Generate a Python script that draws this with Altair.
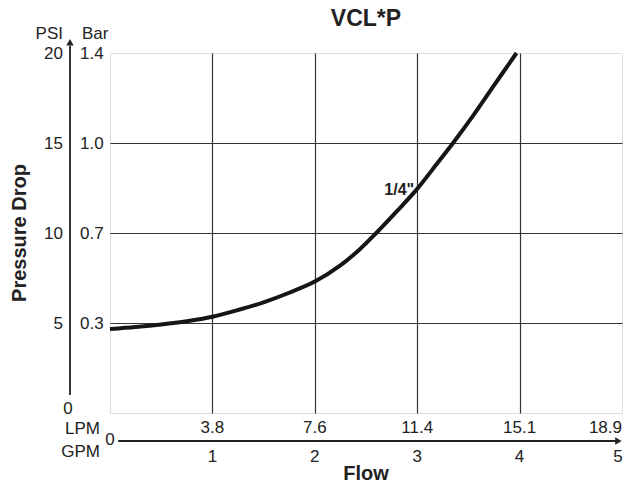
import altair as alt
import pandas as pd

# ---- data ----
gpm = [0, 0.25, 0.5, 0.75, 1.0, 1.25, 1.5, 1.75, 2.0, 2.25, 2.44, 2.6, 2.8, 3.0, 3.2, 3.35, 3.55, 3.75, 3.97]
psi = [4.67, 4.78, 4.92, 5.1, 5.35, 5.72, 6.15, 6.68, 7.3, 8.2, 9.1, 10.0, 11.2, 12.45, 13.9, 15.0, 16.55, 18.2, 20.0]

grid_gpm = [1, 2, 3, 4]
grid_psi = [5, 10, 15]

psi_ticks = [5, 10, 15, 20]
bar_labels = ["0.3", "0.7", "1.0", "1.4"]

gpm_ticks = [1, 2, 3, 4, 5]
lpm_labels = ["3.8", "7.6", "11.4", "15.1", "18.9"]

series_label = ['1/4"']
series_label_gpm = [2.97]
series_label_psi = [12.4]

title_text = "VCL*P"
x_title = "Flow"
y_title = "Pressure Drop"

F = "Liberation Sans"
W, H = 512, 360

xs = alt.Scale(domain=[0, 5], nice=False, zero=False)
ys = alt.Scale(domain=[0, 20], nice=False, zero=False)

curve_df = pd.DataFrame({"gpm": gpm, "psi": psi})
ytick_df = pd.DataFrame({"psi": psi_ticks, "bar": bar_labels})
xtick_df = pd.DataFrame({"gpm": gpm_ticks, "lpm": lpm_labels})
lab_df = pd.DataFrame({"gpm": series_label_gpm, "psi": series_label_psi, "t": series_label})
one = pd.DataFrame({"k": [0]})

curve = alt.Chart(curve_df).mark_line(
    color="#151515", strokeWidth=4, interpolate="catmull-rom"
).encode(
    x=alt.X("gpm:Q", scale=xs, axis=alt.Axis(values=grid_gpm, grid=True, labels=False, ticks=False,
                                              domain=False, title=None, gridColor="#333333", gridWidth=1.2)),
    y=alt.Y("psi:Q", scale=ys, axis=alt.Axis(values=grid_psi, grid=True, labels=False, ticks=False,
                                              domain=False, title=None, gridColor="#333333", gridWidth=1.2)),
)

series_lab = alt.Chart(lab_df).mark_text(
    align="right", baseline="middle", font=F, fontSize=16, fontWeight="bold", color="#222"
).encode(x=alt.X("gpm:Q", scale=xs), y=alt.Y("psi:Q", scale=ys), text="t:N")

psi_txt = alt.Chart(ytick_df).mark_text(
    align="right", baseline="middle", font=F, fontSize=17, color="#222", dy=1
).encode(x=alt.value(-47), y=alt.Y("psi:Q", scale=ys), text="psi:Q")

bar_txt = alt.Chart(ytick_df).mark_text(
    align="left", baseline="middle", font=F, fontSize=17, color="#222", dy=1
).encode(x=alt.value(-30), y=alt.Y("psi:Q", scale=ys), text="bar:N")

psi_zero = alt.Chart(one).mark_text(
    align="center", baseline="middle", font=F, fontSize=17, color="#222", text="0", dy=-4
).encode(x=alt.value(-42), y=alt.Y(datum=0, scale=ys))

gpm_zero = alt.Chart(one).mark_text(
    align="center", baseline="middle", font=F, fontSize=17, color="#222", text="0"
).encode(x=alt.X(datum=0, scale=xs), y=alt.value(387))

lpm_txt = alt.Chart(xtick_df[xtick_df.gpm < 5]).mark_text(
    align="center", baseline="middle", font=F, fontSize=17, color="#222"
).encode(x=alt.X("gpm:Q", scale=xs), y=alt.value(375), text="lpm:N")

lpm_last = alt.Chart(xtick_df[xtick_df.gpm == 5]).mark_text(
    align="right", baseline="middle", font=F, fontSize=17, color="#222", dx=0
).encode(x=alt.X("gpm:Q", scale=xs), y=alt.value(375), text="lpm:N")

gpm_txt = alt.Chart(xtick_df[xtick_df.gpm < 5]).mark_text(
    align="center", baseline="middle", font=F, fontSize=17, color="#222"
).encode(x=alt.X("gpm:Q", scale=xs), y=alt.value(404), text="gpm:Q")

gpm_last = alt.Chart(xtick_df[xtick_df.gpm == 5]).mark_text(
    align="center", baseline="middle", font=F, fontSize=17, color="#222", dx=-4
).encode(x=alt.X("gpm:Q", scale=xs), y=alt.value(404), text="gpm:Q")

def label(txt, x, y, align="center", size=17, weight="normal", angle=0):
    kw = dict(align=align, baseline="middle", font=F, fontSize=size, fontWeight=weight,
              color="#222", text=txt)
    if angle:
        kw["angle"] = angle
    return alt.Chart(one).mark_text(**kw).encode(x=alt.value(x), y=alt.value(y))

headers = [
    label("PSI", -47, -19.5, align="right"),
    label("Bar", -28, -19.5, align="left"),
    label("LPM", -10, 376, align="right"),
    label("GPM", -10, 398.5, align="right"),
    label(x_title, 256, 421, size=20, weight="bold"),
    label(y_title, -90, 180, size=20, weight="bold", angle=270),
    label(title_text, 256, -34, size=23, weight="bold"),
]

# axis arrows
h_line = alt.Chart(one).mark_rule(color="#222", strokeWidth=1.8).encode(
    x=alt.X(datum=0.08, scale=xs), x2=alt.X2(datum=4.96), y=alt.value(388))
h_head = alt.Chart(one).mark_point(shape="triangle-right", filled=True, color="#222", size=55, opacity=1).encode(
    x=alt.X(datum=4.965, scale=xs), y=alt.value(388))
v_line = alt.Chart(one).mark_rule(color="#222", strokeWidth=1.8).encode(
    y=alt.Y(datum=1.0, scale=ys), y2=alt.Y2(datum=20.4), x=alt.value(-40))
v_head = alt.Chart(one).mark_point(shape="triangle-up", filled=True, color="#222", size=55, opacity=1).encode(
    y=alt.Y(datum=20.6, scale=ys), x=alt.value(-40))

chart = alt.layer(
    curve, series_lab, psi_txt, bar_txt, psi_zero, gpm_zero, lpm_txt, lpm_last, gpm_txt, gpm_last,
    h_line, h_head, v_line, v_head, *headers
).properties(
    width=W, height=H,
    autosize=alt.AutoSizeParams(type="none"),
    padding={"left": 102, "top": 45, "right": 1, "bottom": 70},
).configure_view(stroke="#111", strokeWidth=1.6).configure(background="white")

chart.save("out.html", embed_options={"renderer": "svg", "actions": False})
